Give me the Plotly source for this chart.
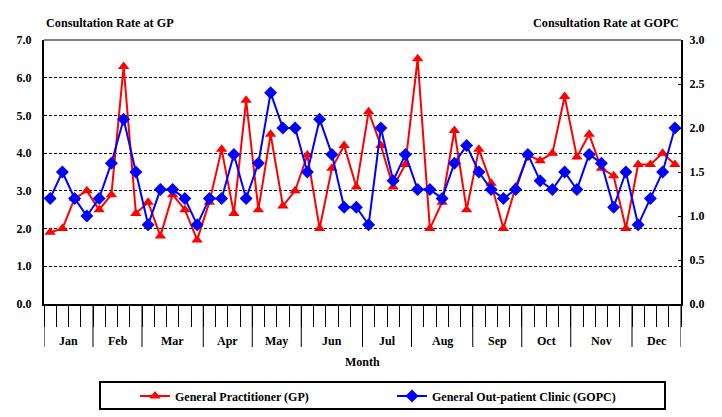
import plotly.graph_objects as go

months = ["Jan", "Feb", "Mar", "Apr", "May", "Jun", "Jul", "Aug", "Sep", "Oct", "Nov", "Dec"]
weeks_per_month = [4, 4, 5, 4, 4, 5, 4, 5, 4, 4, 5, 4]

gp_rate = [1.9, 2.0, 2.8, 3.0, 2.5, 2.9, 6.3, 2.4, 2.7, 1.8, 2.9, 2.5, 1.7,
           2.7, 4.1, 2.4, 5.4, 2.5, 4.5, 2.6, 3.0, 3.95, 2.0, 3.6, 4.2, 3.1,
           5.1, 4.2, 3.1, 3.7, 6.5, 2.0, 2.7, 4.6, 2.5, 4.1, 3.2, 2.0, 3.1,
           3.95, 3.8, 4.0, 5.5, 3.9, 4.5, 3.6, 3.4, 2.0, 3.7, 3.7, 4.0, 3.7]
gopc_rate = [1.2, 1.5, 1.2, 1.0, 1.2, 1.6, 2.1, 1.5, 0.9, 1.3, 1.3, 1.2, 0.9,
             1.2, 1.2, 1.7, 1.2, 1.6, 2.4, 2.0, 2.0, 1.5, 2.1, 1.7, 1.1, 1.1,
             0.9, 2.0, 1.4, 1.7, 1.3, 1.3, 1.2, 1.6, 1.8, 1.5, 1.3, 1.2, 1.3,
             1.7, 1.4, 1.3, 1.5, 1.3, 1.7, 1.6, 1.1, 1.5, 0.9, 1.2, 1.5, 2.0]

# the page places the figure 8px in from the top-left corner of the window
OFF = 8
WIN_W, WIN_H = 722, 417
W, H = WIN_W - OFF, WIN_H - OFF
PLOT_L, PLOT_R, PLOT_T, PLOT_B = 44, 681, 40, 304   # window pixels
L, R, T, B = PLOT_L - OFF, WIN_W - PLOT_R, PLOT_T - OFF, WIN_H - PLOT_B
PW, PH = W - L - R, H - T - B

def px_x(x):
    return (x - PLOT_L) / PW

def px_y(y):
    return (PLOT_B - y) / PH

FONT = "Liberation Serif"
weeks = list(range(len(gp_rate)))

fig = go.Figure()
fig.add_trace(go.Scatter(
    x=weeks, y=gp_rate, name="General Practitioner (GP)", mode="lines+markers",
    line=dict(color="#FF0000", width=2),
    marker=dict(symbol="triangle-up", size=10, color="#FF0000"),
    yaxis="y"))
fig.add_trace(go.Scatter(
    x=weeks, y=gopc_rate, name="General Out-patient Clinic (GOPC)", mode="lines+markers",
    line=dict(color="#0000FF", width=2),
    marker=dict(symbol="diamond", size=10, color="#0000FF"),
    yaxis="y2"))

# month boundaries and centres from week counts
bounds = [-0.5]
for n in weeks_per_month:
    bounds.append(bounds[-1] + n)
centres = [(bounds[i] + bounds[i + 1]) / 2 for i in range(len(months))]

shapes = []
for b in bounds:
    shapes.append(dict(type="line", xref="x", yref="paper", x0=b, x1=b,
                       y0=0, y1=-43 / PH, line=dict(color="black", width=1)))
# top border of plot
shapes.append(dict(type="line", xref="paper", yref="paper", x0=0, x1=1, y0=1, y1=1,
                   line=dict(color="#808080", width=2)))
# legend box
shapes.append(dict(type="rect", xref="paper", yref="paper",
                   x0=px_x(100), x1=px_x(665), y0=px_y(382), y1=px_y(409),
                   line=dict(color="black", width=2), fillcolor="rgba(0,0,0,0)"))

annotations = []
for m, c in zip(months, centres):
    annotations.append(dict(x=c, xref="x", y=0, yref="paper", yshift=-37,
                            text=m, showarrow=False, yanchor="middle",
                            font=dict(family=FONT, size=12, color="black", weight="bold")))
annotations.append(dict(x=0.5, xref="paper", y=0, yref="paper", yshift=-58,
                        text="Month", showarrow=False, yanchor="middle",
                        font=dict(family=FONT, size=12, color="black", weight="bold")))
annotations.append(dict(x=0, xref="paper", y=1, yref="paper", yshift=17,
                        text="Consultation Rate at GP", showarrow=False,
                        xanchor="left", yanchor="middle",
                        font=dict(family=FONT, size=12.2, color="black", weight="bold")))
annotations.append(dict(x=1, xref="paper", y=1, yref="paper", yshift=17,
                        text="Consultation Rate at GOPC", showarrow=False,
                        xanchor="right", yanchor="middle",
                        font=dict(family=FONT, size=12.2, color="black", weight="bold")))

tickfont = dict(family=FONT, size=12, color="black", weight="bold")

fig.update_layout(
    width=W, height=H,
    margin=dict(l=L, r=R, t=T, b=B, autoexpand=False),
    paper_bgcolor="white", plot_bgcolor="white",
    showlegend=True,
    legend=dict(orientation="h", x=px_x(135), xanchor="left",
                y=px_y(396), yanchor="middle",
                font=dict(family=FONT, size=12, color="black", weight="bold"),
                itemwidth=30, entrywidth=212, entrywidthmode="pixels",
                bgcolor="rgba(0,0,0,0)", borderwidth=0),
    xaxis=dict(range=[-0.5, len(weeks) - 0.5], tickvals=[w - 0.5 for w in weeks] + [len(weeks) - 0.5],
               ticks="outside", ticklen=21, tickwidth=1, tickcolor="black",
               showticklabels=False, showgrid=False, zeroline=False,
               showline=True, linecolor="black", linewidth=2),
    yaxis=dict(range=[0, 7], dtick=1, tick0=0, tickformat=".1f",
               showgrid=True, gridcolor="black", gridwidth=1, griddash="3px,2px",
               zeroline=False, showline=True, linecolor="black", linewidth=2,
               ticks="", tickfont=tickfont, ticklabelstandoff=8),
    yaxis2=dict(range=[0, 3], dtick=0.5, tick0=0, tickformat=".1f",
                overlaying="y", side="right", showgrid=False, zeroline=False,
                showline=True, linecolor="black", linewidth=2,
                ticks="inside", ticklen=3, tickcolor="black",
                tickfont=tickfont, ticklabelstandoff=4),
    shapes=shapes,
    annotations=annotations,
)

fig.write_html("out.html")
